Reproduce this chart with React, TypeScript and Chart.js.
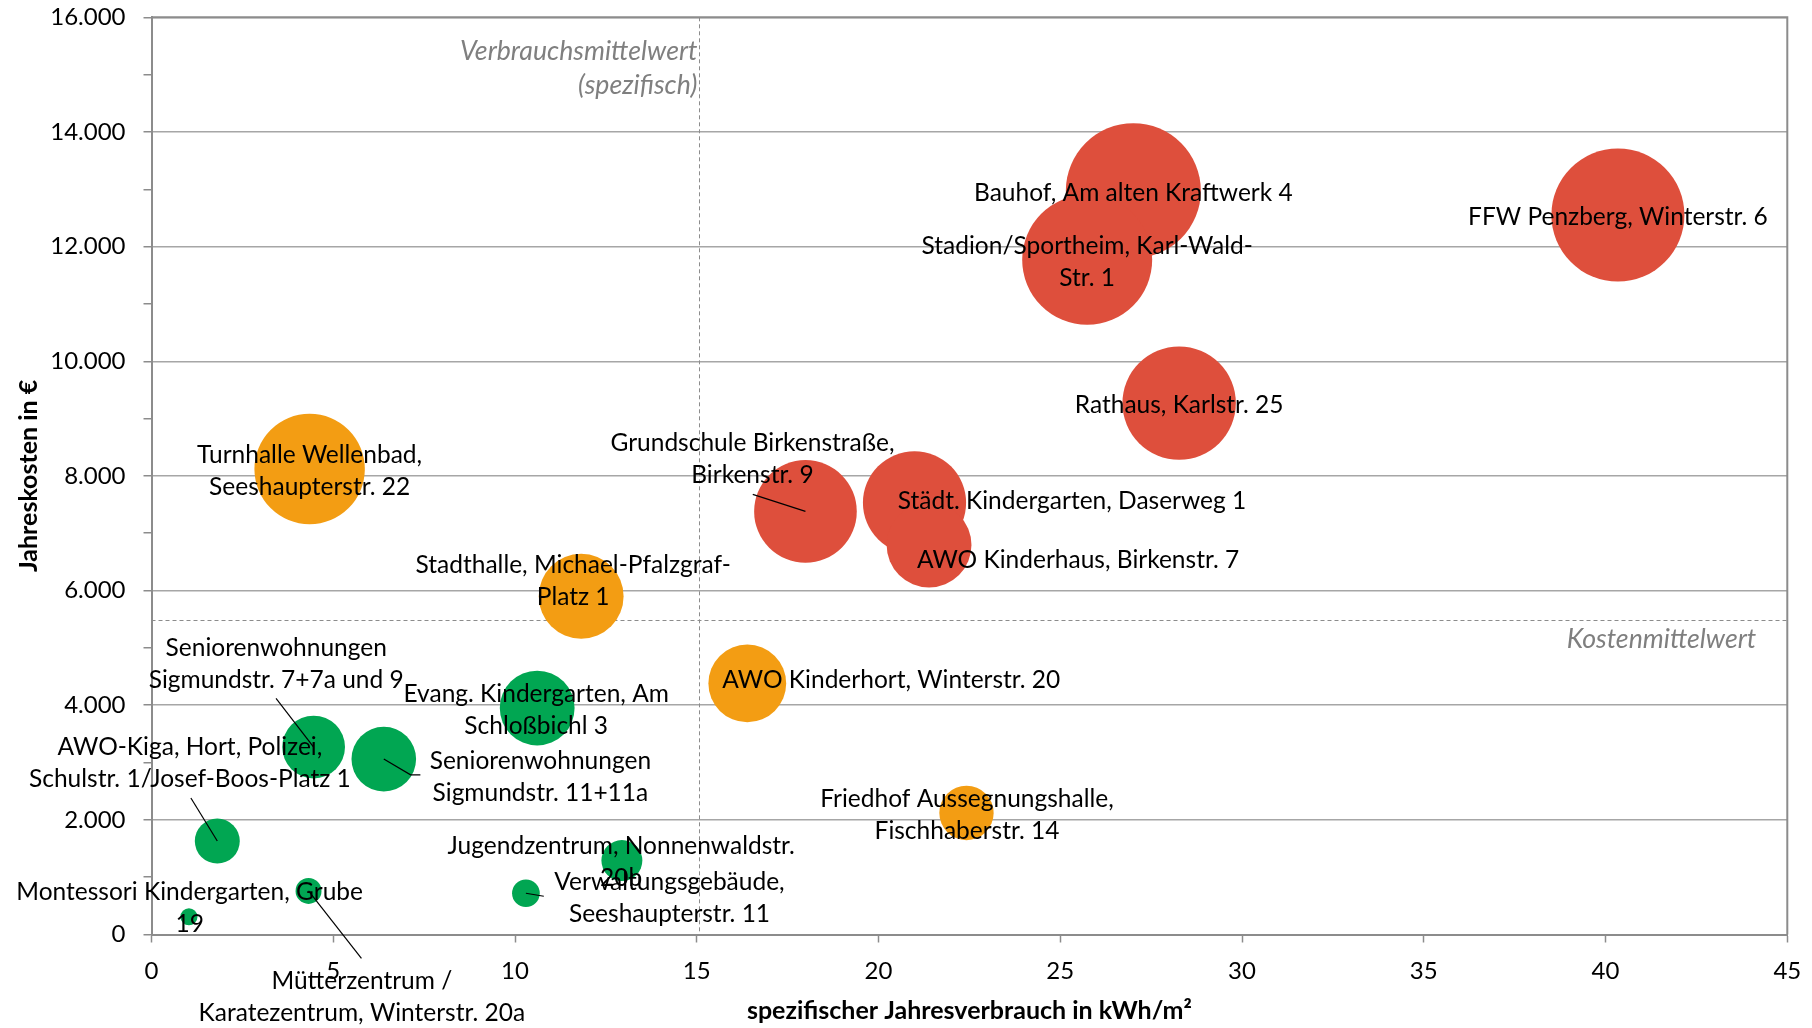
import React, { useEffect, useRef } from 'react';
import { Chart, registerables } from 'chart.js';

Chart.register(...registerables);

// ---------------- data ----------------
const buildingLabels: string[][] = [
  ['FFW Penzberg, Winterstr. 6'],
  ['Bauhof, Am alten Kraftwerk 4'],
  ['Stadion/Sportheim, Karl-Wald-', 'Str. 1'],
  ['Rathaus, Karlstr. 25'],
  ['Grundschule Birkenstraße,', 'Birkenstr. 9'],
  ['Städt. Kindergarten, Daserweg 1'],
  ['AWO Kinderhaus, Birkenstr. 7'],
  ['AWO Kinderhort, Winterstr. 20'],
  ['Friedhof Aussegnungshalle,', 'Fischhaberstr. 14'],
  ['Turnhalle Wellenbad,', 'Seeshaupterstr. 22'],
  ['Stadthalle, Michael-Pfalzgraf-', 'Platz 1'],
  ['Evang. Kindergarten, Am', 'Schloßbichl 3'],
  ['Seniorenwohnungen', 'Sigmundstr. 7+7a und 9'],
  ['Seniorenwohnungen', 'Sigmundstr. 11+11a'],
  ['AWO-Kiga, Hort, Polizei,', 'Schulstr. 1/Josef-Boos-Platz 1'],
  ['Montessori Kindergarten, Grube', '19'],
  ['Mütterzentrum /', 'Karatezentrum, Winterstr. 20a'],
  ['Verwaltungsgebäude,', 'Seeshaupterstr. 11'],
  ['Jugendzentrum, Nonnenwaldstr.', '20b'],
];

// spezifischer Jahresverbrauch in kWh/m²
const consumption = [40.34, 27.01, 25.74, 28.27, 17.99, 20.99, 21.39, 16.39, 22.42, 4.35, 11.82, 10.61, 4.46, 6.39, 1.81, 1.03, 4.32, 10.3, 12.94];
// Jahreskosten in €
const annualCost = [12550, 12975, 11770, 9270, 7380, 7530, 6795, 4380, 2120, 8120, 5900, 3950, 3270, 3060, 1630, 310, 760, 720, 1290];
// relative bubble size (area, largest = 100)
const bubbleSize = [97.1, 100, 92.7, 70.6, 57.8, 58.4, 39.5, 33.2, 16.2, 66.9, 39.5, 30.7, 21.6, 22.9, 11.1, 1.6, 3.7, 4.2, 9.2];
// classification
const group = ['hoch', 'hoch', 'hoch', 'hoch', 'hoch', 'hoch', 'hoch', 'mittel', 'mittel', 'mittel', 'mittel', 'niedrig', 'niedrig', 'niedrig', 'niedrig', 'niedrig', 'niedrig', 'niedrig', 'niedrig'];

const xTickValues = [0, 5, 10, 15, 20, 25, 30, 35, 40, 45];
const yTickValues = [0, 2000, 4000, 6000, 8000, 10000, 12000, 14000, 16000];
const yMinorStep = 1000;

const meanConsumption = 15.06;
const meanCost = 5480;
const meanConsumptionText = ['Verbrauchsmittelwert', '(spezifisch)'];
const meanCostText = 'Kostenmittelwert';

const xTitle = 'spezifischer Jahresverbrauch in kWh/m²';
const yTitle = 'Jahreskosten in €';

// ---------------- layout / style ----------------
const groupColors: Record<string, string> = {
  hoch: '#DE4F3C',
  mittel: '#F39D13',
  niedrig: '#01A652',
};
const MAX_RADIUS = 67.5;

// label block centre offset (px) from bubble centre
const labelOffset: [number, number][] = [
  [0, 2], [0, 2], [0, 2], [0, 2], [-53, -52], [157.5, -2], [149, 15], [144, -3], [0.5, 2], [0, 2],
  [-8, -15], [-1, 2], [-37.4, -83.3], [156.6, 18], [-27.4, -77.6], [0.7, -8.3], [53.3, 105.9], [143.6, 4.5], [-0.7, 1.4],
];
// leader line points (px offsets from bubble centre)
const leaderLines: (number[][] | null)[] = [
  null, null, null, null, [[-52.7, -17]], null, null, null, null, null,
  null, null, [[-37.6, -48.7]], [[26.8, 15.8], [36.6, 15.8]], [[-26.4, -43]], null, [[52.9, 67.5]], [[17.9, 3]], null,
];

const LABEL_FONT = '24.5px Lato';
const LINE_H = 32;

const fmt = (v: number) => String(v).replace(/\B(?=(\d{3})+(?!\d))/g, '.');

const overlayPlugin = {
  id: 'overlay',
  beforeDatasetsDraw(chart: any) {
    const { ctx, chartArea: a, scales } = chart;
    const x = scales.x;
    const y = scales.y;
    ctx.save();
    // frame (top + right)
    ctx.strokeStyle = '#8c8c8c';
    ctx.lineWidth = 2;
    ctx.beginPath();
    ctx.moveTo(a.left, a.top);
    ctx.lineTo(a.right, a.top);
    ctx.lineTo(a.right, a.bottom);
    ctx.stroke();
    // mean lines
    ctx.strokeStyle = '#8c8c8c';
    ctx.lineWidth = 1;
    ctx.setLineDash([4, 3]);
    const mx = Math.round(x.getPixelForValue(meanConsumption)) + 0.5;
    const my = Math.round(y.getPixelForValue(meanCost)) + 0.5;
    ctx.beginPath();
    ctx.moveTo(mx, a.top);
    ctx.lineTo(mx, a.bottom);
    ctx.moveTo(a.left, my);
    ctx.lineTo(a.right, my);
    ctx.stroke();
    ctx.setLineDash([]);
    // mean texts
    ctx.font = 'italic 26.7px Lato';
    ctx.fillStyle = '#7f7f7f';
    ctx.textAlign = 'right';
    ctx.textBaseline = 'middle';
    ctx.fillText(meanConsumptionText[0], mx - 2, a.top + 34.5);
    ctx.fillText(meanConsumptionText[1], mx - 2, a.top + 67.7);
    ctx.fillText(meanCostText, a.right - 31, my + 18.5);
    ctx.restore();
  },
  afterDatasetsDraw(chart: any) {
    const { ctx } = chart;
    const meta = chart.getDatasetMeta(0);
    ctx.save();
    // leader lines
    ctx.strokeStyle = '#000';
    ctx.lineWidth = 1.2;
    meta.data.forEach((el: any, i: number) => {
      const pts = leaderLines[i];
      if (!pts) return;
      ctx.beginPath();
      ctx.moveTo(el.x, el.y);
      pts.forEach((p) => ctx.lineTo(el.x + p[0], el.y + p[1]));
      ctx.stroke();
    });
    // labels
    ctx.font = LABEL_FONT;
    ctx.fillStyle = '#000';
    ctx.textAlign = 'center';
    ctx.textBaseline = 'middle';
    meta.data.forEach((el: any, i: number) => {
      const lines = buildingLabels[i];
      const [dx, dy] = labelOffset[i];
      const n = lines.length;
      lines.forEach((t, k) => {
        ctx.fillText(t, el.x + dx, el.y + dy + (k - (n - 1) / 2) * LINE_H);
      });
    });
    ctx.restore();
  },
};

export default function App() {
  const ref = useRef<HTMLCanvasElement | null>(null);

  useEffect(() => {
    if (!ref.current) return;
    const points = consumption.map((cx, i) => ({
      x: cx,
      y: annualCost[i],
      r: MAX_RADIUS * Math.sqrt(bubbleSize[i] / 100),
    }));
    const chart = new Chart(ref.current, {
      type: 'bubble',
      data: {
        datasets: [
          {
            label: 'Gebäude',
            data: points,
            backgroundColor: group.map((g) => groupColors[g]),
            borderWidth: 0,
            hoverBorderWidth: 0,
          } as any,
        ],
      },
      options: {
        animation: false,
        responsive: true,
        maintainAspectRatio: false,
        layout: { autoPadding: false, padding: { top: 17.3, right: 24.7, bottom: 0, left: 0 } },
        plugins: {
          legend: { display: false },
          tooltip: { enabled: false },
        },
        scales: {
          x: {
            type: 'linear',
            min: 0,
            max: 45,
            afterFit: (s: any) => {
              s.height = 93.5;
              s.paddingLeft = 0;
              s.paddingRight = 0;
            },
            afterBuildTicks: (s: any) => {
              s.ticks = xTickValues.map((v) => ({ value: v }));
            },
            ticks: {
              color: '#000',
              font: { family: 'Lato', size: 24 },
              padding: 14,
              maxRotation: 0,
              callback: (v: any) => String(v),
            },
            grid: {
              drawOnChartArea: false,
              drawTicks: true,
              tickLength: 8,
              tickColor: '#8c8c8c',
              tickWidth: 1.5,
            },
            border: { display: true, color: '#8c8c8c', width: 2 },
            title: {
              display: true,
              text: xTitle,
              color: '#000',
              font: { family: 'Lato', size: 25, weight: 'bold' },
              padding: { top: 0, bottom: 2 },
            },
          },
          y: {
            type: 'linear',
            min: 0,
            max: 16000,
            afterFit: (s: any) => {
              s.width = 151.5;
              s.paddingTop = 0;
              s.paddingBottom = 0;
            },
            afterBuildTicks: (s: any) => {
              const t: any[] = [];
              for (let v = 0; v <= 16000; v += yMinorStep) t.push({ value: v });
              s.ticks = t;
            },
            ticks: {
              color: '#000',
              font: { family: 'Lato', size: 24 },
              padding: 18,
              autoSkip: false,
              callback: (v: any) => (yTickValues.includes(v) ? fmt(v) : ''),
            },
            grid: {
              drawTicks: true,
              tickLength: 8,
              color: (c: any) => (c.tick && yTickValues.includes(c.tick.value) && c.tick.value !== 0 ? '#a6a6a6' : 'rgba(0,0,0,0)'),
              tickColor: '#8c8c8c',
              lineWidth: 1.5,
              tickWidth: 1.5,
            },
            border: { display: true, color: '#8c8c8c', width: 2 },
            title: {
              display: true,
              text: yTitle,
              color: '#000',
              font: { family: 'Lato', size: 25, weight: 'bold' },
              padding: { top: 14, bottom: 0 },
            },
          },
        },
      },
      plugins: [overlayPlugin],
    });
    return () => chart.destroy();
  }, []);

  return (
    <div style={{ position: 'fixed', left: 0, top: 0, width: 1812, height: 1028, background: '#fff' }}>
      <canvas ref={ref} />
    </div>
  );
}
